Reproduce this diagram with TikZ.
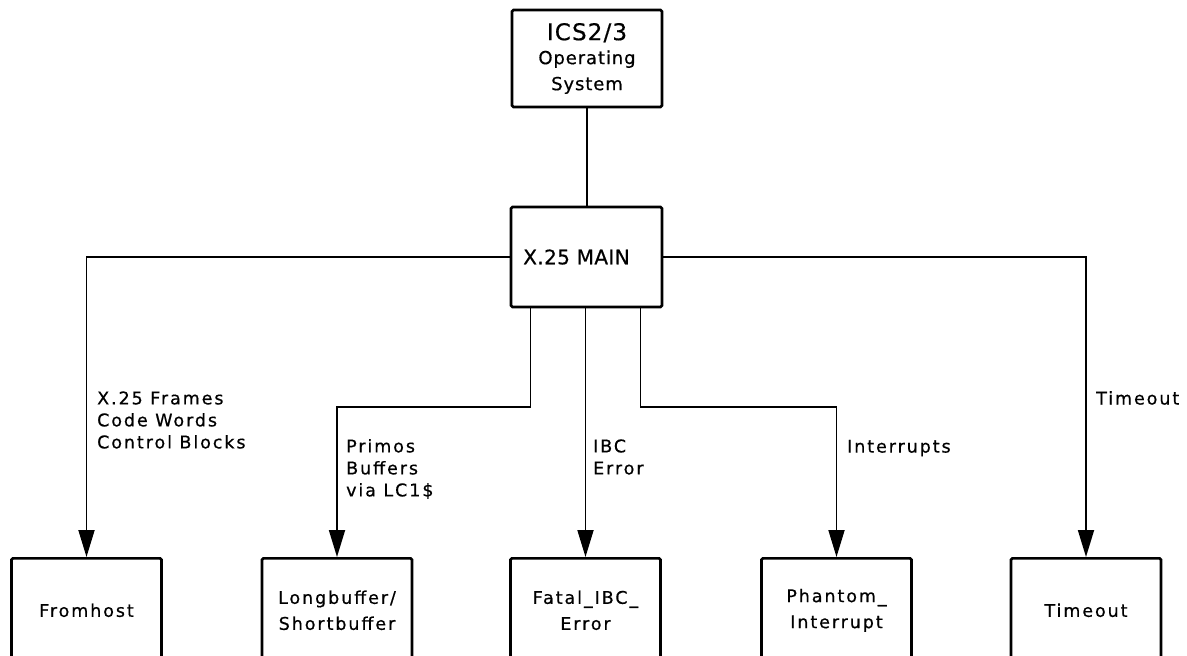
\documentclass[tikz,border=0pt]{standalone}
\usepackage{fontspec}
\setmainfont{DejaVu Sans}[LetterSpace=11,FakeBold=0.6]
\usetikzlibrary{arrows.meta}
\begin{document}
\begin{tikzpicture}[x=1pt,y=-1pt,
  box/.style={draw, line width=2.6pt, rounded corners=1.5pt, minimum width=150pt, inner sep=0pt, align=center,
     font=\fontsize{17.5}{26}\selectfont},
  conn/.style={line width=1.8pt},
  arr/.style={conn, -{Triangle[length=27pt,width=16pt]}},
  lbl/.style={anchor=west, align=left, inner sep=0pt, font=\fontsize{17.5}{22}\selectfont}]
\useasboundingbox (0,0) rectangle (1187,656);
% boxes
\node[box, minimum height=97pt] (os) at (587,58.5)
  {{\fontsize{23}{26}\selectfont\addfontfeatures{LetterSpace=5}ICS2/3}\\[-2pt]
   {\fontsize{18}{21}\selectfont\addfontfeatures{LetterSpace=5}Operating}\\
   {\fontsize{18}{21}\selectfont\addfontfeatures{LetterSpace=5}System}};
\node[box, minimum height=100pt, minimum width=151pt] (main) at (586.5,257)
  {{\fontsize{20}{24}\selectfont\addfontfeatures{LetterSpace=2}X.25 MAIN\hspace{20pt}}};
\node[box, minimum height=104pt, anchor=north] (from) at (86.5,557) {Fromhost};
\node[box, minimum height=104pt, anchor=north] (long) at (337,557) {Longbuffer/\\Shortbuffer};
\node[box, minimum height=104pt, anchor=north] (fatal) at (585.5,557) {Fatal\_IBC\_\\Error};
\node[box, minimum height=104pt, anchor=north] (phantom) at (836.5,557) {Phantom\_\\Interrupt};
\node[box, minimum height=104pt, anchor=north] (timeout) at (1086,557) {Timeout};
% junction coordinates
\coordinate (lb) at (337,407);
\coordinate (pb) at (836.5,407);
% connectors
\draw[conn] (os.south) -- (os.south |- main.north);
\draw[arr] (main.west) -| (from.north);
\draw[arr] (main.east) -| (timeout.north);
\draw[arr] ([xshift=-56pt]main.south) |- (lb) -- (long.north);
\draw[arr] (main.south -| fatal.north) -- (fatal.north);
\draw[arr] ([xshift=54pt]main.south) |- (pb) -- (phantom.north);
% labels
\node[lbl] (l1) at (97,420) {X.25 Frames\\Code Words\\Control Blocks};
\node[lbl] (l2) at (346,469) {Primos\\Buffers\\via LC1\$};
\node[lbl] (l3) at (593,457) {IBC\\Error};
\node[lbl] (l4) at (847,448) {Interrupts};
\node[lbl] (l5) at (1096,398) {Timeout};
\end{tikzpicture}
\end{document}
